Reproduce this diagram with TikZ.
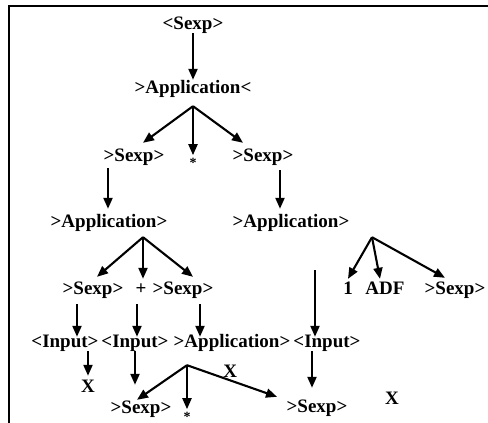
\documentclass[tikz,border=0pt]{standalone}
\usepackage{fontspec}
\setmainfont{Liberation Serif}
\usetikzlibrary{positioning,calc,arrows.meta}

\begin{document}
\begin{tikzpicture}[x=1pt,y=-1pt]
            \tikzstyle{lbl}=[anchor=base, inner sep=0pt, text height=13pt, text depth=4pt, font=\bfseries\fontsize{19}{19}\selectfont]
            \tikzstyle{star}=[inner sep=0pt, font=\bfseries\fontsize{14}{14}\selectfont]
            \tikzstyle{arr}=[line width=2.1pt, -{Triangle[length=11pt,width=9pt]}]

            \useasboundingbox (0,0) rectangle (488,423);
            \draw[line width=2.4pt] (9,423) -- (9,6) -- (488,6);

            \node[lbl] (s0) at (193,29) {<Sexp>};
            \node[lbl] (app0) at (193,93) {>Application<};
            \node[lbl] (sexpL) at (134,161) {>Sexp>};
            \node[star] (st0) at (193,163) {*};
            \node[lbl] (sexpR) at (263,161) {>Sexp>};
            \node[lbl] (appL) at (109,227) {>Application>};
            \node[lbl] (appR) at (291,227) {>Application>};
            \node[lbl] (sexpLL) at (93,294) {>Sexp>};
            \node[lbl] (plus) at (141,294) {+};
            \node[lbl] (sexpLR) at (183,294) {>Sexp>};
            \node[lbl] (one) at (348,294) {1};
            \node[lbl] (adf) at (385,294) {ADF};
            \node[lbl] (sexpRR) at (455,294) {>Sexp>};
            \node[lbl] (in1) at (65,347) {<Input>};
            \node[lbl] (in2) at (135,347) {<Input>};
            \node[lbl] (appM) at (232,347) {>Application>};
            \node[lbl] (in4) at (327,347) {<Input>};
            \node[lbl] (x1) at (88,392) {X};
            \node[lbl] (sexpB1) at (141,413) {>Sexp>};
            \node[star] (st1) at (187,417) {*};
            \node[lbl] (sexpB2) at (317,412) {>Sexp>};
            \node[lbl] (x2) at (392,404) {X};

            \draw[arr] (s0.south) -- (app0.north);
            \coordinate (fanA) at ($(app0.south)+(0,9)$);
            \draw[arr] (fanA) -- ($(sexpL.north)+(9,-5)$);
            \draw[arr] (fanA) -- ($(st0.north)+(0,-3)$);
            \draw[arr] (fanA) -- ($(sexpR.north)+(-20,-5)$);

            \draw[arr] ($(sexpL.south)+(-26,3)$) -- ($(appL.north)+(-1,-5)$);
            \draw[arr] ($(sexpR.south)+(17,5)$) -- ($(appR.north)+(-11,-5)$);

            \coordinate (fanB) at ($(appL.south)+(34,6)$);
            \draw[arr] (fanB) -- ($(sexpLL.north)+(4,-4)$);
            \draw[arr] (fanB) -- ($(plus.north)+(2,-2)$);
            \draw[arr] (fanB) -- ($(sexpLR.north)+(10,-4)$);

            \coordinate (fanC) at ($(appR.south)+(81,6)$);
            \draw[arr] (fanC) -- ($(one.north)+(0,-2)$);
            \draw[arr] (fanC) -- ($(adf.north)+(-5,-2)$);
            \draw[arr] (fanC) -- ($(sexpRR.north)+(-10,-3)$);

            \draw[arr] ($(sexpLL.south)+(-16,6)$) -- ($(in1.north)+(12,3)$);
            \draw[arr] ($(plus.south)+(-4,6)$) -- ($(in2.north)+(2,3)$);
            \draw[arr] ($(sexpLR.south)+(17,6)$) -- ($(appM.north)+(-32,3)$);
            \coordinate (inTop) at (315,270);
            \draw[arr] (inTop) -- ($(in4.north)+(-12,3)$);

            \draw[arr] ($(in1.south)+(23,0)$) -- ($(x1.north)+(0,-3)$);
            \draw[arr] (in2.south) -- ($(sexpB1.north)+(-6,-15)$);
            \coordinate (fanD) at ($(appM.south)+(-45,14)$);
            \draw[arr] (fanD) -- ($(sexpB1.north)+(-4,0)$);
            \draw[arr] (fanD) -- ($(st1.north)+(0,-3)$);
            \draw[arr] (fanD) -- node[lbl, above=-2pt, pos=0.48] (xlbl) {X} ($(sexpB2.north)+(-40,-2)$);
            \draw[arr] ($(in4.south)+(-15,0)$) -- ($(sexpB2.north)+(-5,-11)$);
        \end{tikzpicture}
\end{document}
